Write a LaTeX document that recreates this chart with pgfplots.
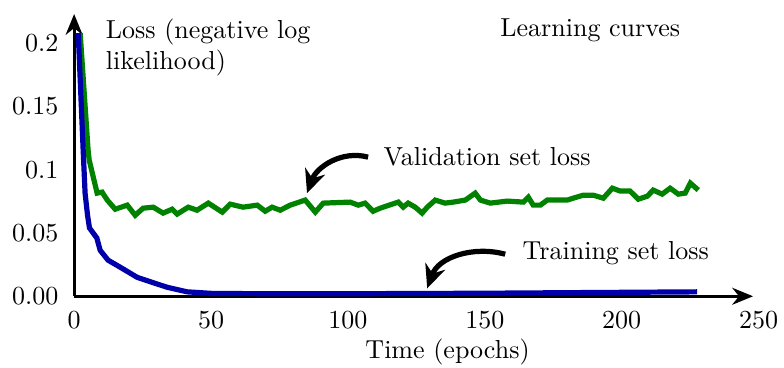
\documentclass[border=0pt]{standalone}
\usepackage{pgfplots}
\pgfplotsset{compat=1.18}
\usetikzlibrary{arrows.meta}
\definecolor{trainblue}{RGB}{0,0,170}
\definecolor{valgreen}{RGB}{0,130,0}
\begin{document}
\begin{tikzpicture}
\begin{axis}[
  scale only axis, width=261pt, height=108.5pt,
  xmin=0, xmax=248, ymin=0, ymax=0.223,
  axis lines=left,
  axis line style={line width=1.2pt, -{Stealth[length=8pt,width=6.5pt]}},
  xtick={0,50,100,150,200}, ytick={0,0.05,0.1,0.15,0.2},
  yticklabels={0.00,0.05,0.1,0.15,0.2},
  major tick length=0pt,
  yticklabel style={xshift=-2.5pt},
  xticklabel style={yshift=-2.5pt},
  xlabel={Time (epochs)},
  xlabel style={at={(axis description cs:0.55,0)}, anchor=north, yshift=-13pt},
  clip=false,
]
\addplot[valgreen, line width=2pt] coordinates {
(2.2,0.208) (5.1,0.1155) (5.5,0.1076) (8.4,0.0815) (10.2,0.0823) (12.1,0.076)
(15.0,0.0688) (19.4,0.072) (22.3,0.064) (25.2,0.0696) (28.9,0.0704) (32.5,0.0657)
(35.8,0.0688) (37.6,0.0649) (41.7,0.0704) (44.9,0.068) (49.0,0.0736) (54.1,0.0665)
(57.0,0.0728) (61.7,0.0704) (66.9,0.072) (69.8,0.0672) (72.3,0.0704) (75.3,0.068)
(78.9,0.072) (84.4,0.076) (88.1,0.0665) (91.0,0.0736) (100.8,0.0744) (103.8,0.072)
(106.3,0.0736) (109.2,0.0672) (111.8,0.0696) (118.4,0.0744) (120.2,0.0704) (122.0,0.0736)
(124.6,0.0704) (127.1,0.0657) (129.0,0.0704) (131.9,0.076) (135.5,0.0736) (138.5,0.0744)
(142.9,0.076) (146.5,0.0815) (148.4,0.076) (152.0,0.0736) (158.2,0.0752) (164.1,0.0744)
(165.9,0.0783) (167.7,0.072) (170.3,0.072) (172.8,0.076) (180.1,0.076) (182.3,0.0775)
(186.0,0.0799) (189.6,0.0799) (193.3,0.0775) (196.6,0.0854) (199.5,0.0831) (203.1,0.0831)
(206.1,0.0767) (209.4,0.0791) (211.5,0.0839) (214.8,0.0807) (217.7,0.0854) (220.7,0.0807)
(223.2,0.0815) (225.1,0.0894) (228.0,0.0839)
};
\addplot[trainblue, line width=2pt] coordinates {
(1.5,0.208) (3.3,0.1155) (4.0,0.0815) (4.9,0.064) (5.6,0.054) (8.3,0.046) (9.5,0.0364)
(12.4,0.0285) (16.8,0.023) (23.0,0.015) (28.5,0.011) (34,0.0071) (41.3,0.0035)
(50.8,0.0022) (75,0.002) (100,0.002) (150,0.0024) (192,0.003) (227.6,0.0035)
};
\node[anchor=north, inner sep=0.333em, yshift=-2.5pt] at (axis cs:250,0) {$250$};
\node[anchor=north west, align=left, inner sep=0pt] at (rel axis cs:0.046,0.985) {Loss (negative log\\likelihood)};
\node[anchor=west, inner sep=0pt] at (rel axis cs:0.627,0.943) {Learning curves};
\node[anchor=west, inner sep=0pt] at (rel axis cs:0.455,0.493) {Validation set loss};
\node[anchor=west, inner sep=0pt] at (rel axis cs:0.66,0.152) {Training set loss};
\draw[line width=2pt, -{Stealth[length=9pt,width=8pt]}] (rel axis cs:0.433,0.493) to[out=165,in=70] (rel axis cs:0.343,0.365);
\draw[line width=2pt, -{Stealth[length=9pt,width=8pt]}] (rel axis cs:0.635,0.149) to[out=165,in=70] (rel axis cs:0.52,0.028);
\coordinate (SW) at (rel axis cs:0,0);
\coordinate (NE) at (rel axis cs:1,1);
\end{axis}
\pgfresetboundingbox
\path ([shift={(-28.5pt,-27.2pt)}]SW) rectangle ([shift={(11.9pt,5.4pt)}]NE);
\end{tikzpicture}
\end{document}
